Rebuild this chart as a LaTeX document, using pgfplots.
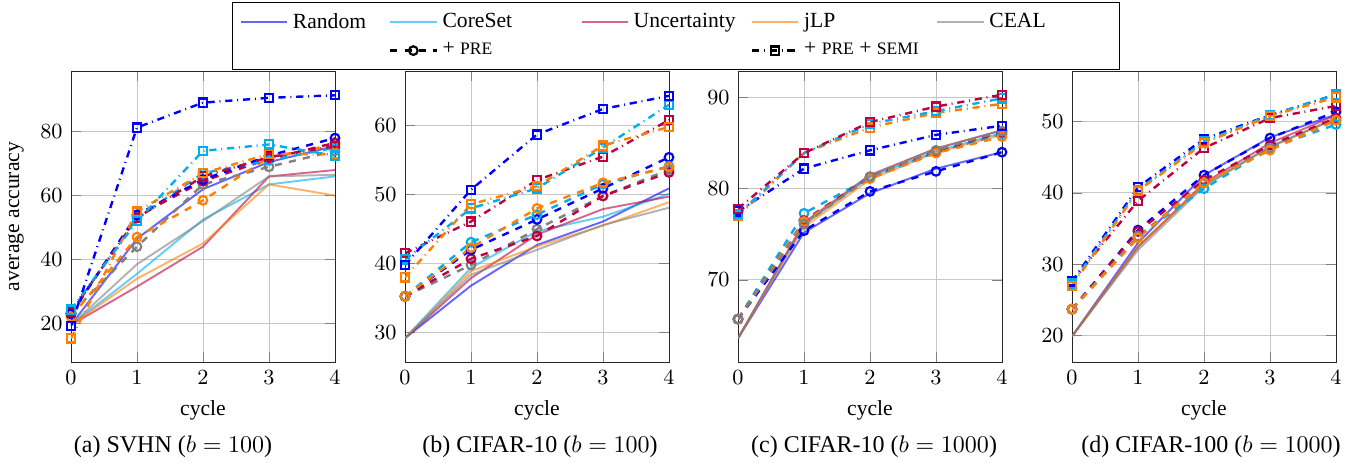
\documentclass[border=0pt]{standalone}
\usepackage{fontspec}
\setmainfont{Liberation Serif}
\usepackage{pgfplots}
\pgfplotsset{compat=1.18}
\definecolor{cRand}{RGB}{0,0,255}
\definecolor{cCore}{RGB}{0,174,239}
\definecolor{cUnc}{RGB}{191,0,64}
\definecolor{cJLP}{RGB}{255,128,0}
\definecolor{cCEAL}{RGB}{128,128,128}
\newcommand{\PRE}{{\fontsize{7.3}{8}\selectfont PRE}}
\newcommand{\SEMI}{{\fontsize{7.3}{8}\selectfont SEMI}}
\pgfplotsset{
  base/.style={solid, line width=0.8pt, draw opacity=0.6, no marks},
  pre/.style={dashed, line width=1pt, mark=o, mark options={solid, line width=0.9pt}, mark size=1.8pt},
  semi/.style={dashdotted, line width=1pt, mark=square, mark options={solid, line width=0.9pt}, mark size=1.7pt},
  myaxis/.style={scale only axis, width=110pt, height=121.25pt, anchor=north west,
    xmin=0, xmax=4, xtick={0,1,2,3,4}, grid=major, xlabel={cycle},
    tick label style={font=\small}, label style={font=\small},
    major grid style={black!22}, axis line style={black!85},
    legend image code/.code={\draw[mark repeat=2,mark phase=2] plot coordinates {(0cm,0cm) (0.34cm,0cm) (0.68cm,0cm)};}},
}
\begin{document}
\begin{tikzpicture}
\path[use as bounding box] (0,0) rectangle (567.5pt,-192.9pt);
% (a) SVHN
\begin{axis}[myaxis, at={(29.58pt,-29.58pt)}, ymin=7.9, ymax=99, ytick={20,40,60,80}, ylabel={average accuracy}]
\addplot[base, cRand] coordinates {(0,19.5) (1,46.5) (2,62) (3,70.5) (4,75.5)};
\addplot[base, cCore] coordinates {(0,19.5) (1,35.5) (2,52.5) (3,63.5) (4,66)};
\addplot[base, cUnc] coordinates {(0,19.5) (1,31.5) (2,44) (3,66) (4,68)};
\addplot[base, cJLP] coordinates {(0,19.5) (1,34) (2,45) (3,63.5) (4,60)};
\addplot[base, cCEAL] coordinates {(0,19.5) (1,38.5) (2,52) (3,66) (4,66.5)};
\addplot[pre, cCEAL] coordinates {(0,23) (1,44) (2,63.5) (3,69) (4,74)};
\addplot[pre, cJLP] coordinates {(0,22) (1,47) (2,58.5) (3,72) (4,76)};
\addplot[pre, cUnc] coordinates {(0,23) (1,53.5) (2,64.5) (3,71.5) (4,76.5)};
\addplot[pre, cCore] coordinates {(0,23.5) (1,53) (2,67) (3,71) (4,75)};
\addplot[pre, cRand] coordinates {(0,23) (1,54) (2,65) (3,72.5) (4,78)};
\addplot[semi, cUnc] coordinates {(0,23.5) (1,53) (2,66) (3,72) (4,75.5)};
\addplot[semi, cJLP] coordinates {(0,15.3) (1,55) (2,67) (3,73) (4,73)};
\addplot[semi, cCore] coordinates {(0,24.3) (1,52) (2,74) (3,76) (4,72.5)};
\addplot[semi, cRand] coordinates {(0,19.2) (1,81.3) (2,89.1) (3,90.6) (4,91.4)};
\end{axis}
% (b) CIFAR-10 b=100
\begin{axis}[myaxis, at={(168.75pt,-29.58pt)}, ymin=25.75, ymax=67.9, ytick={30,40,50,60},
  legend columns=5, legend cell align=left,
  legend style={at={(-0.655,1.237)}, anchor=north west, draw=black, font=\small, inner xsep=3pt, inner ysep=2.4pt,
    /tikz/every odd column/.append style={column sep=0pt}, row sep=0.6pt}]
\addlegendimage{cRand, solid, line width=0.8pt, draw opacity=0.6}
\addlegendentry{\makebox[38pt][l]{Random}}
\addlegendimage{cCore, solid, line width=0.8pt, draw opacity=0.6}
\addlegendentry{\makebox[55.5pt][l]{CoreSet}}
\addlegendimage{cUnc, solid, line width=0.8pt, draw opacity=0.6}
\addlegendentry{\makebox[46.7pt][l]{Uncertainty}}
\addlegendimage{cJLP, solid, line width=0.8pt, draw opacity=0.6}
\addlegendentry{\makebox[53pt][l]{jLP}}
\addlegendimage{cCEAL, solid, line width=0.8pt, draw opacity=0.6}
\addlegendentry{\makebox[49pt][l]{CEAL}}
\addlegendimage{empty legend}
\addlegendentry{}
\addlegendimage{black, pre}
\addlegendentry{+ \PRE}
\addlegendimage{empty legend}
\addlegendentry{}
\addlegendimage{black, semi}
\addlegendentry{+ \PRE{} + \SEMI}
\addlegendimage{empty legend}
\addlegendentry{}
\addplot[base, cRand, forget plot] coordinates {(0,29.2) (1,36.8) (2,42.7) (3,46.1) (4,50.9)};
\addplot[base, cCore, forget plot] coordinates {(0,29.2) (1,39.4) (2,44.7) (3,46.8) (4,50.1)};
\addplot[base, cUnc, forget plot] coordinates {(0,29.2) (1,37.9) (2,44.2) (3,47.9) (4,49.7)};
\addplot[base, cJLP, forget plot] coordinates {(0,29.2) (1,38.9) (2,42.5) (3,45.5) (4,48.9)};
\addplot[base, cCEAL, forget plot] coordinates {(0,29.2) (1,38.4) (2,42) (3,45.6) (4,48.1)};
\addplot[pre, cCEAL, forget plot] coordinates {(0,35.25) (1,39.8) (2,45) (3,49.8) (4,53.6)};
\addplot[pre, cUnc, forget plot] coordinates {(0,35.25) (1,40.7) (2,44) (3,49.8) (4,53.2)};
\addplot[pre, cRand, forget plot] coordinates {(0,35.25) (1,42) (2,46.4) (3,50.9) (4,55.4)};
\addplot[pre, cCore, forget plot] coordinates {(0,35.25) (1,43.1) (2,47.1) (3,51.5) (4,54.1)};
\addplot[pre, cJLP, forget plot] coordinates {(0,35.25) (1,42.3) (2,48) (3,51.7) (4,54)};
\addplot[semi, cUnc, forget plot] coordinates {(0,41.5) (1,46.1) (2,52.1) (3,55.5) (4,60.8)};
\addplot[semi, cCore, forget plot] coordinates {(0,40.6) (1,48) (2,50.9) (3,56.8) (4,63)};
\addplot[semi, cJLP, forget plot] coordinates {(0,38) (1,48.6) (2,51.2) (3,57.1) (4,59.8)};
\addplot[semi, cRand, forget plot] coordinates {(0,39.8) (1,50.7) (2,58.7) (3,62.4) (4,64.3)};
\end{axis}
% (c) CIFAR-10 b=1000
\begin{axis}[myaxis, at={(307.5pt,-29.58pt)}, ymin=61, ymax=92.9, ytick={70,80,90}]
\addplot[base, cRand] coordinates {(0,63.6) (1,75.2) (2,79.5) (3,82.2) (4,84)};
\addplot[base, cCore] coordinates {(0,63.6) (1,76.1) (2,81.3) (3,84.1) (4,86.1)};
\addplot[base, cUnc] coordinates {(0,63.6) (1,76.3) (2,81.5) (3,84.4) (4,86.4)};
\addplot[base, cJLP] coordinates {(0,63.6) (1,75.8) (2,81) (3,84) (4,85.9)};
\addplot[base, cCEAL] coordinates {(0,63.6) (1,76.1) (2,81.4) (3,84.4) (4,86.4)};
\addplot[pre, cRand] coordinates {(0,65.7) (1,75.4) (2,79.7) (3,81.9) (4,84)};
\addplot[pre, cCore] coordinates {(0,65.7) (1,77.3) (2,81.2) (3,84) (4,86)};
\addplot[pre, cUnc] coordinates {(0,65.7) (1,76.5) (2,81.3) (3,84.1) (4,86.2)};
\addplot[pre, cJLP] coordinates {(0,65.7) (1,76.4) (2,81.1) (3,83.9) (4,85.7)};
\addplot[pre, cCEAL] coordinates {(0,65.7) (1,76.1) (2,81.3) (3,84.2) (4,86.3)};
\addplot[semi, cRand] coordinates {(0,77.5) (1,82.2) (2,84.2) (3,85.9) (4,86.9)};
\addplot[semi, cJLP] coordinates {(0,77) (1,83.9) (2,86.7) (3,88.3) (4,89.3)};
\addplot[semi, cCore] coordinates {(0,77.2) (1,83.9) (2,87.1) (3,88.5) (4,89.9)};
\addplot[semi, cUnc] coordinates {(0,77.8) (1,83.9) (2,87.3) (3,89) (4,90.3)};
\end{axis}
% (d) CIFAR-100 b=1000
\begin{axis}[myaxis, at={(446.67pt,-29.58pt)}, ymin=16.3, ymax=57.1, ytick={20,30,40,50}]
\addplot[base, cRand] coordinates {(0,19.9) (1,33) (2,42.5) (3,47.8) (4,51)};
\addplot[base, cCore] coordinates {(0,19.9) (1,32.5) (2,41.1) (3,46.5) (4,50.5)};
\addplot[base, cUnc] coordinates {(0,19.9) (1,32.4) (2,41.4) (3,47) (4,50.9)};
\addplot[base, cJLP] coordinates {(0,19.9) (1,32.5) (2,41.2) (3,46.4) (4,50.5)};
\addplot[base, cCEAL] coordinates {(0,19.9) (1,32) (2,40.9) (3,46.5) (4,50.4)};
\addplot[pre, cRand] coordinates {(0,23.7) (1,34.8) (2,42.5) (3,47.7) (4,51.4)};
\addplot[pre, cUnc] coordinates {(0,23.7) (1,34.6) (2,41.8) (3,46.7) (4,50.5)};
\addplot[pre, cCore] coordinates {(0,23.7) (1,33.9) (2,40.6) (3,46.3) (4,49.6)};
\addplot[pre, cCEAL] coordinates {(0,23.7) (1,33.9) (2,41.4) (3,46.3) (4,50.2)};
\addplot[pre, cJLP] coordinates {(0,23.7) (1,33.7) (2,41.4) (3,46) (4,50.2)};
\addplot[semi, cUnc] coordinates {(0,27.6) (1,38.9) (2,46.3) (3,50.5) (4,52.2)};
\addplot[semi, cRand] coordinates {(0,27.6) (1,40.8) (2,47.6) (3,50.9) (4,53.8)};
\addplot[semi, cCore] coordinates {(0,27.3) (1,40.4) (2,47.2) (3,50.9) (4,53.8)};
\addplot[semi, cJLP] coordinates {(0,27) (1,40.3) (2,47) (3,50.8) (4,53.4)};
\end{axis}
\node at (72.1pt,-186.25pt) {(a) SVHN ($b=100$)};
\node at (225pt,-186.25pt) {(b) CIFAR-10 ($b=100$)};
\node at (364.2pt,-186.25pt) {(c) CIFAR-10 ($b=1000$)};
\node at (504.6pt,-186.25pt) {(d) CIFAR-100 ($b=1000$)};
\end{tikzpicture}
\end{document}
